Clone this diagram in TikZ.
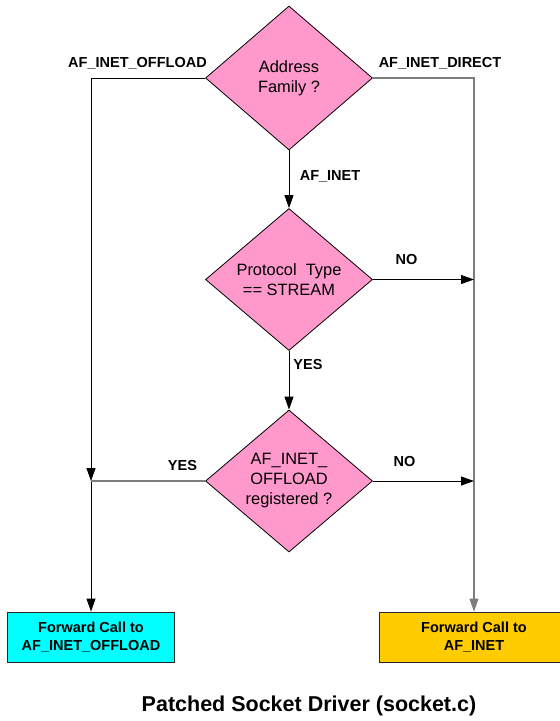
\documentclass[tikz,border=0pt]{standalone}
\usepackage{fontspec}
\setmainfont{Liberation Sans}
\usetikzlibrary{shapes.geometric,arrows.meta}
\definecolor{dpink}{HTML}{FF99CC}
\definecolor{dcyan}{HTML}{00FFFF}
\definecolor{dorange}{HTML}{FFCC00}
\definecolor{lgray}{RGB}{125,125,125}
\tikzset{
  dec/.style={diamond, draw=black, line width=0.8pt, fill=dpink, inner sep=0pt,
    minimum width=167pt, align=center, font=\fontsize{16.4}{20}\selectfont},
  lbl/.style={font=\bfseries\fontsize{14.5}{17.5}\selectfont, inner sep=0pt},
  outbox/.style={draw=black!85, line width=0.9pt, minimum height=50pt, align=center,
    font=\bfseries\fontsize{14.5}{18}\selectfont, inner sep=0pt},
  conn/.style={line width=0.9pt, draw=black},
  connG/.style={line width=1.1pt, draw=lgray},
  tip/.style={-{Triangle[length=13pt,width=9pt]}},
}
\begin{document}
\begin{tikzpicture}[x=1pt,y=-1pt]
\useasboundingbox (0,0) rectangle (560,721);
\node[dec, minimum height=144pt] (d1) at (289,78) {Address\\Family ?};
\node[dec, minimum height=142pt] (d2) at (289,279.5) {Protocol~~Type\\== STREAM};
\node[dec, minimum height=142pt] (d3) at (289,481) {AF\_INET\_\\OFFLOAD\\registered ?};
\node[outbox, fill=dcyan, minimum width=167pt] (bL) at (91,637) {Forward Call to\\AF\_INET\_OFFLOAD};
\node[outbox, fill=dorange, minimum width=190pt] (bR) at (474,637) {Forward Call to\\AF\_INET};
\coordinate (cL) at (91,481);

\node[lbl] (l1) at (137.5,63) {AF\_INET\_OFFLOAD};
\node[lbl] (l2) at (440,63) {AF\_INET\_DIRECT};
\node[lbl] (l3) at (330,176) {AF\_INET};
\node[lbl] (l4) at (406.5,260) {NO};
\node[lbl] (l5) at (308,365) {YES};
\node[lbl] (l6) at (404.5,462) {NO};
\node[lbl] (l7) at (182.5,465.5) {YES};
\node[font=\bfseries\fontsize{21.5}{25}\selectfont, inner sep=0pt] (title) at (309,706) {Patched Socket Driver (socket.c)};

\draw[conn, tip] (d1.west) -| (cL);
\draw[conn, tip] (cL) -- (bL.north);
\draw[connG] (d3.west) -- (cL);
\draw[connG, tip] (d1.east) -| (bR.north);
\draw[conn, tip] (d1.south) -- (d2.north);
\draw[conn, tip] (d2.south) -- (d3.north);
\draw[conn, tip] (d2.east) -- (d2.east -| bR.north);
\draw[conn, tip] (d3.east) -- (d3.east -| bR.north);
\end{tikzpicture}
\end{document}
